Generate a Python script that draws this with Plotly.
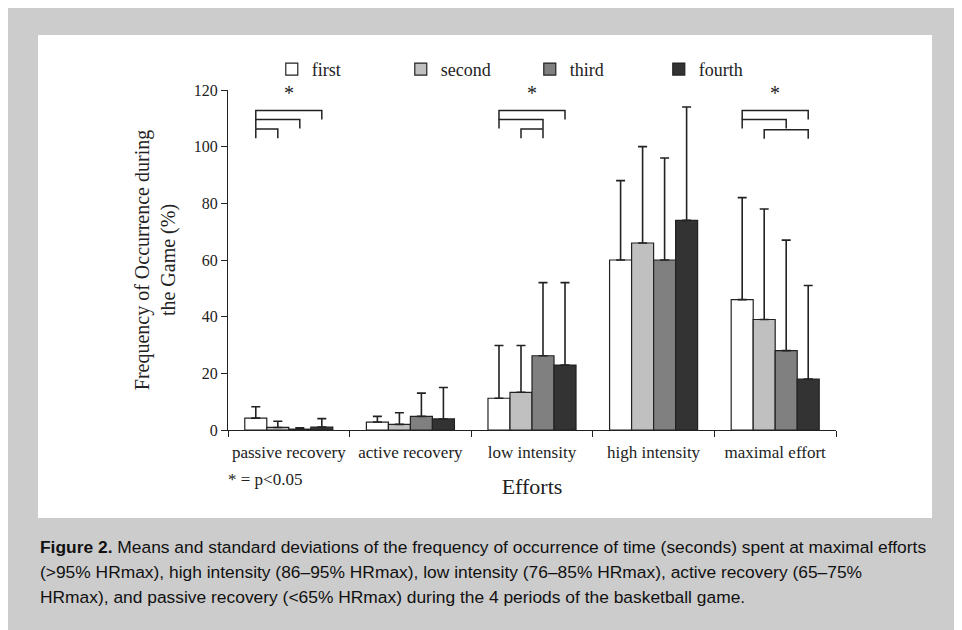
import plotly.graph_objects as go

categories = ["passive recovery", "active recovery", "low intensity", "high intensity", "maximal effort"]
periods = ["first", "second", "third", "fourth"]
means = {
    "first":  [4.2, 2.8, 11.2, 60.0, 46.0],
    "second": [0.9, 2.0, 13.3, 66.0, 39.0],
    "third":  [0.3, 4.8, 26.2, 60.0, 28.0],
    "fourth": [1.0, 3.9, 22.9, 74.0, 18.0],
}
sds = {
    "first":  [4.0, 2.0, 18.6, 28.0, 36.0],
    "second": [2.2, 4.1, 16.5, 34.0, 39.0],
    "third":  [0.5, 8.2, 25.8, 36.0, 39.0],
    "fourth": [3.0, 11.1, 29.1, 40.0, 33.0],
}
colors = {"first": "#ffffff", "second": "#c0c0c0", "third": "#808080", "fourth": "#333333"}

# significance brackets: (category index, period a, period b, height)
brackets = [
    (0, 0, 1, 106.2), (0, 0, 2, 109.6), (0, 0, 3, 112.8),
    (2, 1, 2, 106.2), (2, 0, 2, 109.6), (2, 0, 3, 112.8),
    (4, 1, 3, 106.0), (4, 0, 2, 109.6), (4, 0, 3, 112.8),
]
star_groups = [0, 2, 4]

SERIF = "Liberation Serif"
BARGAP = 0.276
group_w = 1 - BARGAP
bar_w = group_w / 4


def bar_center(cat, i):
    return cat - group_w / 2 + (i + 0.5) * bar_w


fig = go.Figure()
for p in periods:
    fig.add_trace(go.Bar(
        name=p, x=categories, y=means[p],
        marker=dict(color=colors[p], line=dict(color="#222222", width=1.2)),
        error_y=dict(type="data", symmetric=False, array=sds[p],
                     arrayminus=[0] * len(categories),
                     color="#222222", thickness=1.6, width=4.5),
    ))

shapes = [dict(type="rect", xref="paper", yref="paper", x0=-0.3125, x1=1.1579,
               y0=-0.2588, y1=1.1618, fillcolor="white", line=dict(width=0), layer="below")]
leg = 3.2
for cat, a, b, h in brackets:
    xa, xb = bar_center(cat, a), bar_center(cat, b)
    shapes.append(dict(type="path", xref="x", yref="y",
                       path=f"M{xa},{h-leg} L{xa},{h} L{xb},{h} L{xb},{h-leg}",
                       line=dict(color="#222222", width=1.5)))

annotations = []
for cat in star_groups:
    xs = (bar_center(cat, 0) + bar_center(cat, 3)) / 2
    annotations.append(dict(x=xs, y=119, xref="x", yref="y", text="*", showarrow=False,
                            font=dict(family=SERIF, size=20, color="#222")))

annotations.append(dict(x=-0.004, y=-0.147, xref="paper", yref="paper", xanchor="left",
                        yanchor="middle", text="* = p&lt;0.05", showarrow=False,
                        font=dict(family=SERIF, size=17, color="#222")))

cap_lines = [
    "<b>Figure 2.</b> Means and standard deviations of the frequency of occurrence of time (seconds) spent at maximal efforts",
    "(&gt;95% HRmax), high intensity (86–95% HRmax), low intensity (76–85% HRmax), active recovery (65–75%",
    "HRmax), and passive recovery (&lt;65% HRmax) during the 4 periods of the basketball game.",
]
for k, line in enumerate(cap_lines):
    annotations.append(dict(x=-0.3125, y=(430 - (547 + 25 * k)) / 340, xref="paper", yref="paper",
                            xanchor="left", yanchor="middle", text=line, showarrow=False,
                            font=dict(family="Liberation Sans, Arial", size=17.4, color="#111")))

fig.update_layout(
    width=962, height=630,
    margin=dict(l=220, r=134, t=82, b=208, autoexpand=False),
    paper_bgcolor="#cccccc", plot_bgcolor="white",
    barmode="group", bargap=BARGAP, bargroupgap=0,
    font=dict(family=SERIF, color="#222"),
    showlegend=True,
    legend=dict(orientation="h", x=0.072, y=1.115, xanchor="left", yanchor="top",
                font=dict(family=SERIF, size=18, color="#222"),
                entrywidth=84, entrywidthmode="pixels", bgcolor="rgba(0,0,0,0)"),
    shapes=shapes, annotations=annotations,
)
fig.update_yaxes(range=[0, 120], tickvals=[0, 20, 40, 60, 80, 100, 120],
                 showline=True, linecolor="#222", linewidth=1.2, ticks="outside", ticklen=6,
                 tickcolor="#222", showgrid=False, zeroline=False,
                 tickfont=dict(family=SERIF, size=16, color="#222"),
                 title=dict(text="Frequency of Occurrence during<br>the Game (%)", standoff=12,
                            font=dict(family=SERIF, size=20, color="#222")))
fig.update_xaxes(showline=True, linecolor="#222", linewidth=1.2, ticks="outside", ticklen=6,
                 tickcolor="#222", tickson="boundaries", showgrid=False, tickangle=0,
                 ticklabelstandoff=6,
                 tickfont=dict(family=SERIF, size=17, color="#222"),
                 title=dict(text="Efforts", standoff=18, font=dict(family=SERIF, size=22, color="#222")))

fig.write_html("out.html")
